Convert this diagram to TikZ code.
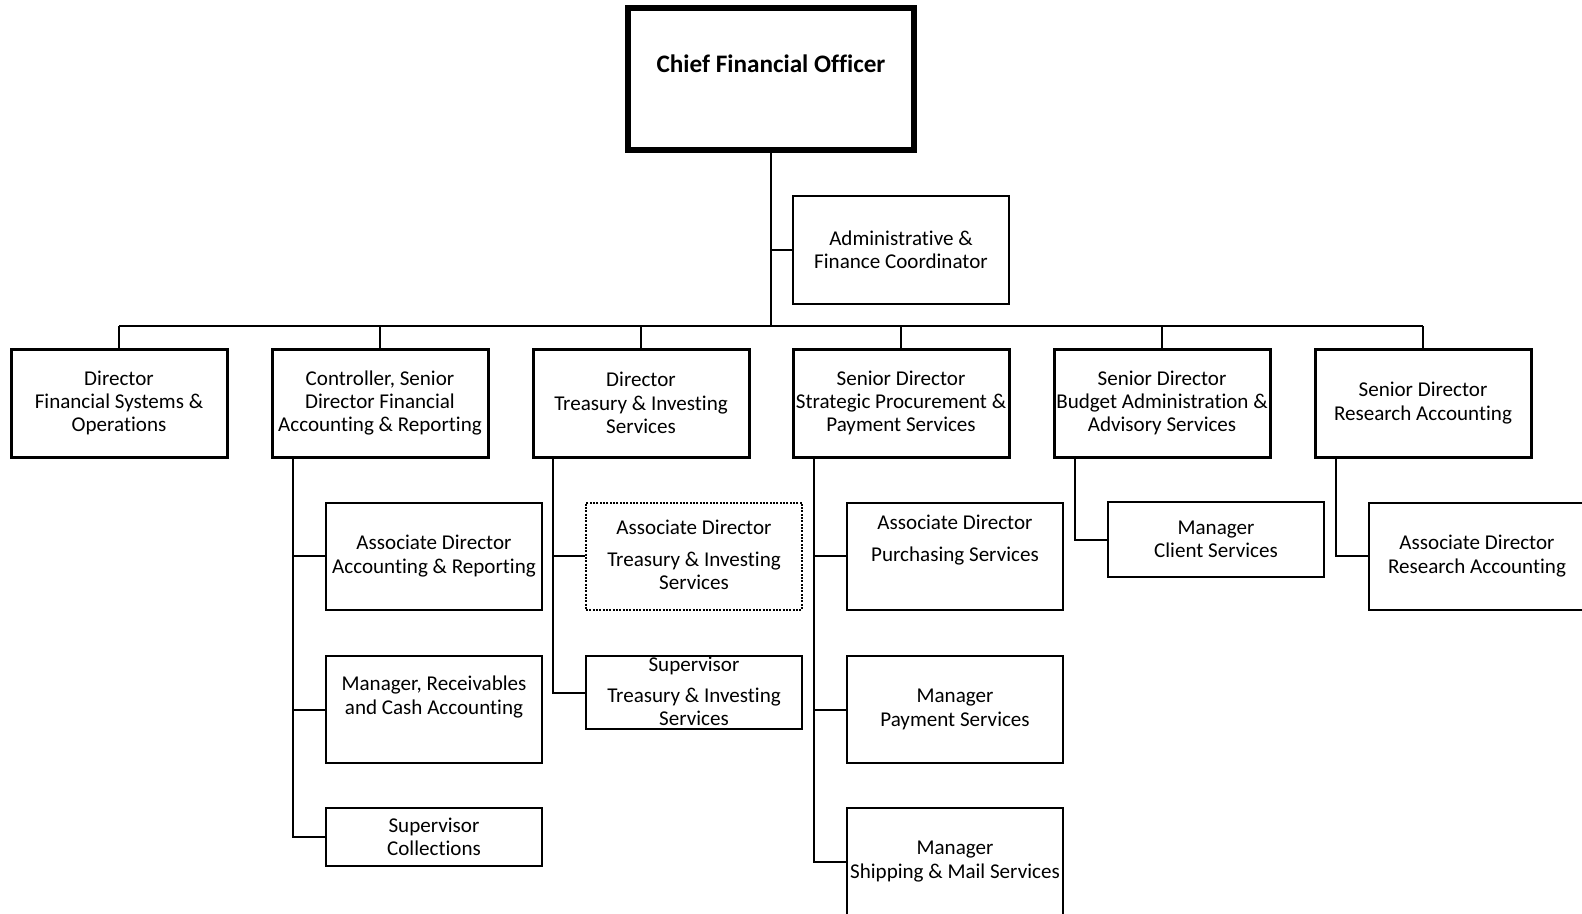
\documentclass[tikz,border=0pt]{standalone}
\usepackage{fontspec}
\setmainfont[Ligatures={NoCommon}]{Carlito}
\begin{document}
\begin{tikzpicture}[x=0.75pt,y=-0.75pt,
  sz/.style 2 args={minimum width=#1*0.75pt, minimum height=#2*0.75pt},
  box/.style={draw, line width=1.5pt, inner sep=0pt, align=center, font=\fontsize{15.8}{17.4}\selectfont},
  head/.style={box, line width=2.25pt, sz={216}{108}},
  subbox/.style={box, sz={216}{107}},
  txt/.style={align=center, inner sep=0pt, font=\fontsize{15.8}{17.4}\selectfont},
  conn/.style={line width=1.5pt}]
\useasboundingbox (0,0) rectangle (1582,914);

% top
\node[box, line width=4.5pt, sz={286}{142}] (cfo) at (771,79) {};
\node[txt, font=\fontsize{18.9}{21}\selectfont\bfseries] (cfot) at (771,64) {Chief Financial Officer};
\node[box, sz={216}{108}] (admin) at (901,250) {Administrative \&\\Finance Coordinator};

% heads
\node[head] (h1) at (119,403) {Director\\Financial Systems \&\\Operations};
\node[head] (h2) at (380,403) {Controller, Senior\\Director Financial\\Accounting \& Reporting};
\node[head] (h3) at (641,403) {Director\\Treasury \& Investing\\Services};
\node[head] (h4) at (901,403) {Senior Director\\Strategic Procurement \&\\Payment Services};
\node[head] (h5) at (1162,403) {Senior Director\\Budget Administration \&\\Advisory Services};
\node[head] (h6) at (1423,403) {Senior Director\\Research Accounting};

% column 2
\node[subbox] (s2a) at (434,556) {Associate Director\\Accounting \& Reporting};
\node[subbox] (s2b) at (434,709.5) {};
\node[txt] (s2bt) at (434,697) {Manager, Receivables\\and Cash Accounting};
\node[box, sz={216}{58}] (s2c) at (434,837) {Supervisor\\Collections};

% column 3
\node[subbox, densely dotted] (s3a) at (694,556) {};
\node[txt] (s3at) at (694,555) {Associate Director\\[6pt]Treasury \& Investing\\Services};
\node[box, sz={216}{73}] (s3b) at (694,692.5) {};
\node[txt] (s3bt) at (694,691.5) {Supervisor\\[6pt]Treasury \& Investing\\Services};

% column 4
\node[subbox] (s4a) at (955,556) {};
\node[txt] (s4at) at (955,540) {Associate Director\\[6pt]Purchasing Services};
\node[subbox] (s4b) at (955,709.5) {Manager\\Payment Services};
\node[subbox] (s4c) at (955,861.5) {Manager\\Shipping \& Mail Services};

% column 5
\node[box, sz={216}{75}] (s5a) at (1216,539.5) {Manager\\Client Services};

% column 6
\node[subbox] (s6a) at (1477,556) {Associate Director\\Research Accounting};

% connectors
\coordinate (bus) at (771,326);
\draw[conn] (cfo.south) -- (bus);
\draw[conn] (admin.west) -- (admin.west -| cfo.south);
\draw[conn] (h1.north |- bus) -- (h6.north |- bus);
\foreach \h in {h1,h2,h3,h4,h5,h6}{
  \draw[conn] (\h.north) -- (\h.north |- bus);
}
\draw[conn] ([xshift=16.5pt]h2.south west) |- (s2c.west);
\draw[conn] ([xshift=16.5pt]h2.south west) |- (s2a.west);
\draw[conn] ([xshift=16.5pt]h2.south west) |- (s2b.west);
\draw[conn] ([xshift=15.75pt]h3.south west) |- (s3b.west);
\draw[conn] ([xshift=15.75pt]h3.south west) |- (s3a.west);
\draw[conn] ([xshift=16.5pt]h4.south west) |- (s4c.west);
\draw[conn] ([xshift=16.5pt]h4.south west) |- (s4a.west);
\draw[conn] ([xshift=16.5pt]h4.south west) |- (s4b.west);
\draw[conn] ([xshift=16.5pt]h5.south west) |- (s5a.west);
\draw[conn] ([xshift=16.5pt]h6.south west) |- (s6a.west);
\end{tikzpicture}
\end{document}
